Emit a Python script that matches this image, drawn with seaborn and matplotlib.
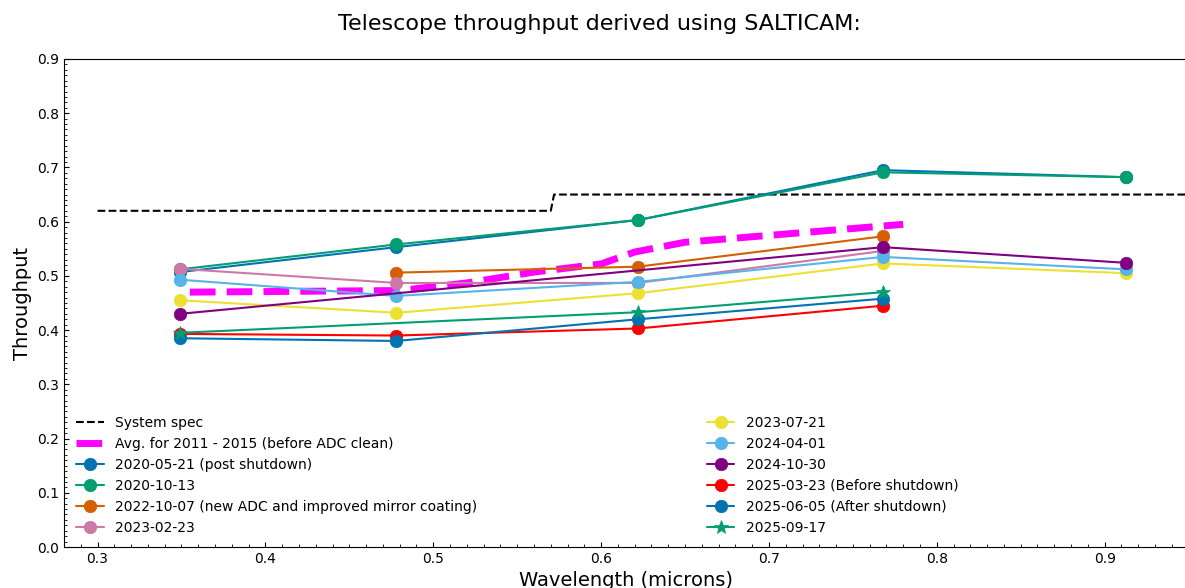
import matplotlib
matplotlib.use("Agg")
import matplotlib.pyplot as plt
from matplotlib.ticker import MultipleLocator
import seaborn as sns

# filter central wavelengths (microns)
wl = [0.349, 0.478, 0.622, 0.768, 0.913]

# system spec (step function)
spec_x = [0.30, 0.570, 0.572, 0.95]
spec_y = [0.62, 0.62, 0.65, 0.65]

# average 2011 - 2015
avg_x = [0.355, 0.48, 0.52, 0.56, 0.60, 0.62, 0.65, 0.78]
avg_y = [0.470, 0.473, 0.487, 0.507, 0.522, 0.544, 0.562, 0.595]

tp_20200521 = [0.507, 0.553, 0.603, 0.695, 0.682]
tp_20201013 = [0.512, 0.558, 0.603, 0.691, 0.682]
wl_20221007 = [0.478, 0.622, 0.768]
tp_20221007 = [0.506, 0.517, 0.573]
wl_20230223 = [0.349, 0.478, 0.622, 0.768]
tp_20230223 = [0.513, 0.487, 0.487, 0.546]
tp_20230721 = [0.455, 0.432, 0.468, 0.523, 0.505]
tp_20240401 = [0.493, 0.463, 0.489, 0.535, 0.512]
wl_20241030 = [0.349, 0.768, 0.913]
tp_20241030 = [0.430, 0.553, 0.524]
wl_20250323 = [0.349, 0.478, 0.622, 0.768]
tp_20250323 = [0.393, 0.390, 0.403, 0.445]
wl_20250605 = [0.349, 0.478, 0.622, 0.768]
tp_20250605 = [0.385, 0.380, 0.420, 0.458]
wl_20250917 = [0.349, 0.622, 0.768]
tp_20250917 = [0.395, 0.433, 0.470]

sns.set_style("ticks", {"xtick.direction": "in", "ytick.direction": "in",
                        "axes.edgecolor": "black", "text.color": "black",
                        "axes.labelcolor": "black", "xtick.color": "black",
                        "ytick.color": "black"})
plt.rcParams["font.family"] = ["DejaVu Sans"]

fig = plt.figure(figsize=(11.85, 5.88), dpi=100)
ax = fig.add_axes([0.054, 0.0697, 0.949, 0.830])

sns.lineplot(x=spec_x, y=spec_y, ax=ax, color="black", linestyle="--",
             linewidth=1.5, label="System spec", estimator=None)
sns.lineplot(x=avg_x, y=avg_y, ax=ax, color="magenta", linestyle="--",
             linewidth=5, label="Avg. for 2011 - 2015 (before ADC clean)", estimator=None)

series = [
    (wl, tp_20200521, "2020-05-21 (post shutdown)", "#0173B2", "o"),
    (wl, tp_20201013, "2020-10-13", "#029E73", "o"),
    (wl_20221007, tp_20221007, "2022-10-07 (new ADC and improved mirror coating)", "#D55E00", "o"),
    (wl_20230223, tp_20230223, "2023-02-23", "#CC79A7", "o"),
    (wl, tp_20230721, "2023-07-21", "#ECE133", "o"),
    (wl, tp_20240401, "2024-04-01", "#56B4E9", "o"),
    (wl_20241030, tp_20241030, "2024-10-30", "purple", "o"),
    (wl_20250323, tp_20250323, "2025-03-23 (Before shutdown)", "red", "o"),
    (wl_20250605, tp_20250605, "2025-06-05 (After shutdown)", "#0173B2", "o"),
    (wl_20250917, tp_20250917, "2025-09-17", "#029E73", "*"),
]
for x, y, lab, col, mk in series:
    sns.lineplot(x=x, y=y, ax=ax, color=col, marker=mk, markersize=9 if mk == "o" else 10,
                 markeredgewidth=0.5, markeredgecolor=col, linewidth=1.5,
                 label=lab, estimator=None)

ax.set_xlim(0.28, 0.95)
ax.set_ylim(0.0, 0.9)
ax.xaxis.set_major_locator(MultipleLocator(0.1))
ax.xaxis.set_minor_locator(MultipleLocator(0.01))
ax.yaxis.set_major_locator(MultipleLocator(0.1))
ax.yaxis.set_minor_locator(MultipleLocator(0.01))
ax.tick_params(which="both", direction="in", labelsize=10)
ax.set_xlabel("Wavelength (microns)", fontsize=14)
ax.set_ylabel("Throughput", fontsize=14)

ax.legend(loc="lower left", ncol=2, frameon=False, fontsize=10, columnspacing=16.5)

fig.text(0.506, 0.959, "Telescope throughput derived using SALTICAM:", ha="center",
         va="center", fontsize=16)

fig.savefig("out.png", dpi=100)
